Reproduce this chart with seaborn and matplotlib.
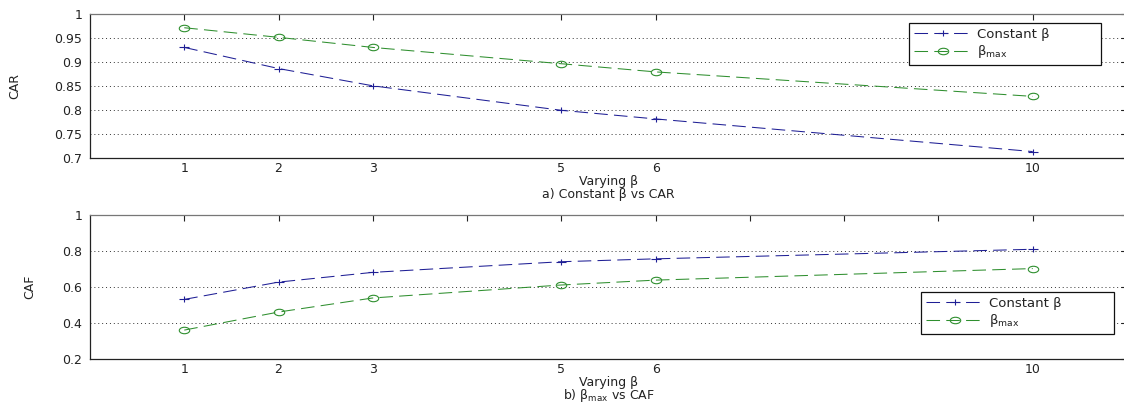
import numpy as np
import pandas as pd
import matplotlib
matplotlib.use("Agg")
import matplotlib.pyplot as plt
from matplotlib.path import Path
from matplotlib.transforms import Affine2D
import seaborn as sns

# ---- data -------------------------------------------------------------
beta_values = [1, 2, 3, 5, 6, 10]

car_constant = [0.931, 0.887, 0.851, 0.800, 0.782, 0.714]
car_beta_max = [0.972, 0.952, 0.931, 0.897, 0.880, 0.829]

caf_constant = [0.532, 0.628, 0.682, 0.741, 0.757, 0.810]
caf_beta_max = [0.362, 0.462, 0.540, 0.612, 0.639, 0.703]

car_yticks = [0.7, 0.75, 0.8, 0.85, 0.9, 0.95, 1.0]
caf_yticks = [0.2, 0.4, 0.6, 0.8, 1.0]
caf_xticks = list(range(1, 11))

series_names = ["Constant β", "β$_{\\mathregular{max}}$"]
captions = ["a) Constant β vs CAR", "b) β$_{\\mathregular{max}}$ vs CAF"]

# ---- style ------------------------------------------------------------
sns.set_theme(style="white")
plt.rcParams["font.family"] = ["DejaVu Sans"]
plt.rcParams["mathtext.default"] = "regular"
FS = 9
TEXT = "#222222"

BLUE = "#1f1f95"
GREEN = "#2f8f2f"

# horizontally elongated markers
plus_marker = Path([(-1, 0), (1, 0), (0, -0.64), (0, 0.64)],
                   [Path.MOVETO, Path.LINETO, Path.MOVETO, Path.LINETO])
oval_marker = Path.unit_circle().transformed(Affine2D().scale(1.0, 0.62))

W, H = 1124, 407
fig = plt.figure(figsize=(W / 100, H / 100), dpi=100)
left_px, right_px = 90, 1127
ax_w = (right_px - left_px) / W
ax_top = fig.add_axes([left_px / W, 1 - 158.3 / H, ax_w, 144 / H])
ax_bot = fig.add_axes([left_px / W, 1 - 359.3 / H, ax_w, 144.3 / H])

DASH = (0, (13, 6))


def draw_series(ax, y_const, y_max):
    df = pd.DataFrame({"beta": beta_values, "const": y_const, "bmax": y_max})
    sns.lineplot(data=df, x="beta", y="const", ax=ax, color=BLUE,
                 marker=plus_marker, markersize=7.5, markerfacecolor="none",
                 markeredgecolor=BLUE, markeredgewidth=0.8,
                 linestyle=DASH, linewidth=0.75, label=series_names[0])
    sns.lineplot(data=df, x="beta", y="bmax", ax=ax, color=GREEN,
                 marker=oval_marker, markersize=7.5, markerfacecolor="none",
                 markeredgecolor=GREEN, markeredgewidth=0.8,
                 linestyle=DASH, linewidth=0.75, label=series_names[1])


def style_axes(ax, yticks, xticks, ylab, ylab_x, caption, axes_h_px, legend_box):
    ax.set_xlim(0, 11)
    ax.set_ylim(yticks[0], yticks[-1])
    ax.set_yticks(yticks)
    ax.set_yticklabels([f"{v:g}" for v in yticks])
    ax.set_xticks(xticks)
    ax.set_xticklabels([str(v) if v in beta_values else "" for v in xticks])
    ax.yaxis.grid(True, linestyle=(0, (1, 3)), color="#333333", linewidth=0.7)
    ax.xaxis.grid(False)
    ax.tick_params(axis="both", direction="in", length=4, width=0.8,
                   top=True, right=True, labelsize=FS, colors=TEXT)
    ax.tick_params(axis="x", pad=3.0)
    ax.tick_params(axis="y", pad=5.5)
    for side, sp in ax.spines.items():
        sp.set_visible(True)
        sp.set_linewidth(0.9)
        sp.set_color("#777777" if side in ("top", "right") else "#222222")

    ax.set_ylabel(ylab, fontsize=FS, color=TEXT)
    ax.yaxis.set_label_coords(ylab_x, 0.5)

    ax.set_xlabel("Varying β", fontsize=FS, color=TEXT)
    ax.xaxis.label.set_va("baseline")
    ax.xaxis.set_label_coords(0.5, -26.5 / axes_h_px)
    ax.text(0.5, -40 / axes_h_px, caption, transform=ax.transAxes,
            ha="center", va="baseline", fontsize=FS, color=TEXT)

    leg = ax.legend(loc="upper left", bbox_to_anchor=legend_box, mode="expand",
                    ncol=1, fontsize=FS + 0.5, frameon=True, fancybox=False,
                    framealpha=1, edgecolor="#111111", handlelength=4.4,
                    handletextpad=0.4, borderpad=0.35, labelspacing=0.2,
                    borderaxespad=0, numpoints=1)
    leg.get_frame().set_linewidth(0.9)
    for t in leg.get_texts():
        t.set_color(TEXT)


draw_series(ax_top, car_constant, car_beta_max)
draw_series(ax_bot, caf_constant, caf_beta_max)

style_axes(ax_top, car_yticks, beta_values, "CAR", -0.066, captions[0], 144,
           (0.7898, 0.662, 0.1852, 0.2776))
style_axes(ax_bot, caf_yticks, caf_xticks, "CAF", -0.052, captions[1], 144.3,
           (0.8013, 0.182, 0.1862, 0.284))

fig.savefig("out.png", dpi=100)
